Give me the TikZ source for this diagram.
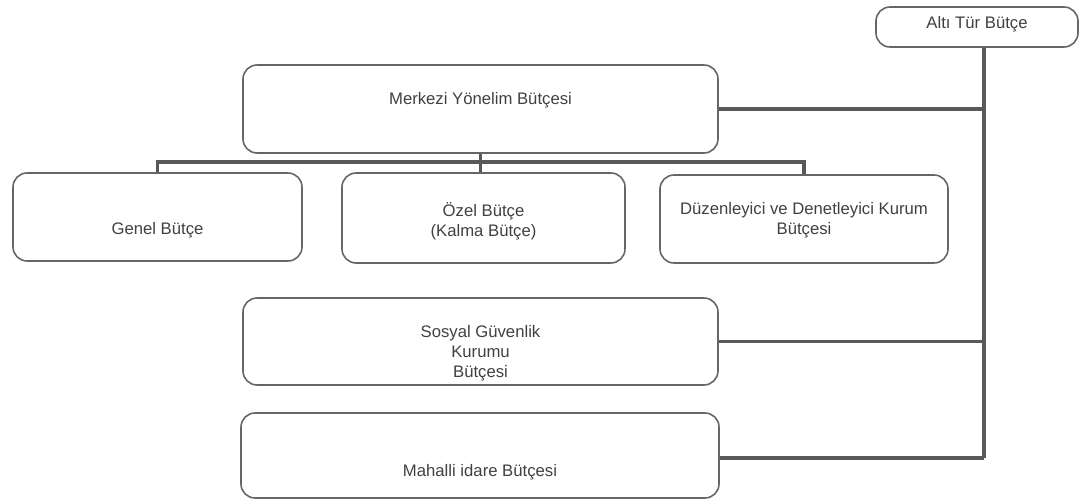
\documentclass[tikz,border=0pt]{standalone}
\usepackage{fontspec}
\setmainfont{Liberation Sans}
\usepackage{tikz}

\begin{document}
\begin{tikzpicture}[every node/.style={font=\fontsize{9.5}{11.5}\selectfont, text=black!75},
	box/.style={draw=black!60, line width=0.9pt, rounded corners=8pt, inner sep=0pt},
	lbl/.style={align=center, inner sep=1pt},
	link/.style={draw=black!65, line width=1.8pt}]
	\useasboundingbox (0,0) rectangle (21.68,10.08);
	\node[box, minimum width=4.04cm, minimum height=0.8cm] (alti) at (19.54,9.54) {};
	\node[box, minimum width=9.5cm, minimum height=1.76cm] (merkezi) at (9.61,7.90) {};
	\node[box, minimum width=5.78cm, minimum height=1.76cm] (genel) at (3.15,5.74) {};
	\node[box, minimum width=5.66cm, minimum height=1.8cm] (ozel) at (9.67,5.72) {};
	\node[box, minimum width=5.76cm, minimum height=1.76cm] (duz) at (16.08,5.70) {};
	\node[box, minimum width=9.5cm, minimum height=1.74cm] (sosyal) at (9.61,3.25) {};
	\node[box, minimum width=9.56cm, minimum height=1.7cm] (mahalli) at (9.60,0.97) {};
	
	\node[lbl] (altiT) at ([yshift=0.05cm]alti.center) {Altı Tür Bütçe};
	\node[lbl] (merkeziT) at ([yshift=0.18cm]merkezi.center) {Merkezi Yönelim Bütçesi};
	\node[lbl] (genelT) at ([yshift=-0.26cm]genel.center) {Genel Bütçe};
	\node[lbl] (ozelT) at ([yshift=-0.06cm]ozel.center) {Özel Bütçe\\(Kalma Bütçe)};
	\node[lbl] (duzT) at ([yshift=-0.02cm]duz.center) {Düzenleyici ve Denetleyici Kurum\\Bütçesi};
	\node[lbl] (sosyalT) at ([yshift=-0.23cm]sosyal.center) {Sosyal Güvenlik\\Kurumu\\Bütçesi};
	\node[lbl] (mahalliT) at ([yshift=-0.33cm]mahalli.center) {Mahalli idare Bütçesi};
	
	\coordinate (spine) at (19.68,0.92);
	\coordinate (bus) at (0,6.84);
	\draw[link] ([xshift=0.14cm]alti.south) -- (spine);
	\draw[link] (merkezi.east) -- (merkezi.east -| spine);
	\draw[link] (sosyal.east) -- (sosyal.east -| spine);
	\draw[link] (mahalli.east |- spine) -- (spine);
	\draw[link] (merkezi.south) -- (merkezi.south |- ozel.north);
	\draw[link] (genel.north) -- (genel.north |- bus) -- (duz.north |- bus) -- (duz.north);
	
\end{tikzpicture}
\end{document}
